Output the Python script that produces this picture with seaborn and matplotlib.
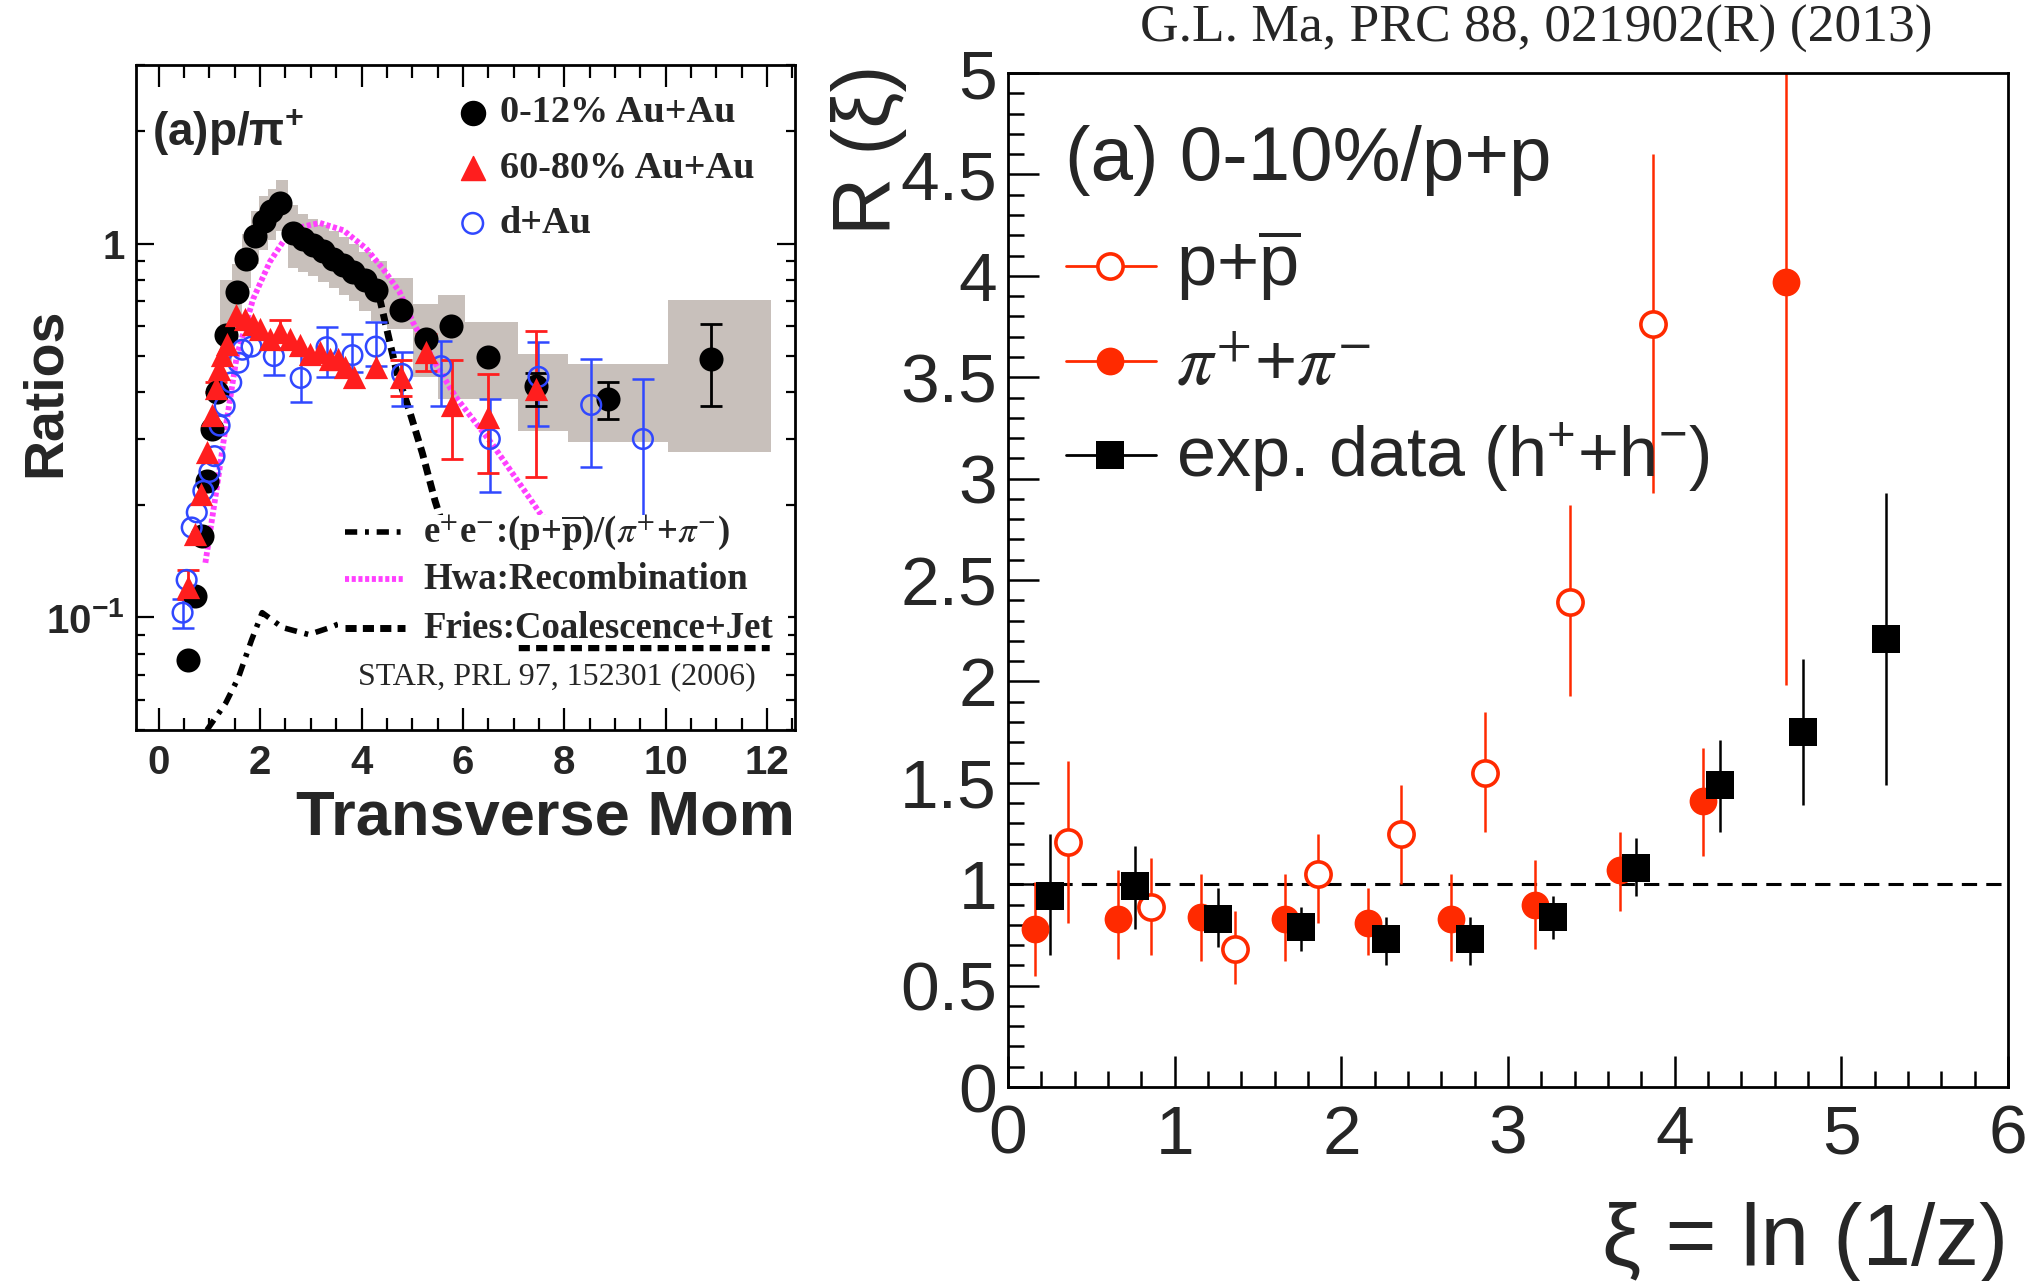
import numpy as np
import matplotlib
matplotlib.use("Agg")
import matplotlib.pyplot as plt
import seaborn as sns
from matplotlib.ticker import MultipleLocator, NullFormatter, FuncFormatter
from matplotlib.patches import Rectangle
from matplotlib.lines import Line2D

# ---------------- LEFT PANEL DATA (STAR p/pi+) ----------------
central_pt = [0.58, 0.72, 0.85, 0.95, 1.05, 1.15, 1.33, 1.55, 1.73, 1.90, 2.07, 2.22, 2.40,
              2.65, 2.85, 3.05, 3.24, 3.44, 3.64, 3.84, 4.06, 4.29, 4.77, 5.28, 5.76,
              6.50, 7.45, 8.86, 10.9]
central_ratio = [0.077, 0.114, 0.165, 0.232, 0.32, 0.40, 0.57, 0.74, 0.91, 1.05, 1.15, 1.22, 1.28,
                 1.07, 1.03, 0.99, 0.953, 0.91, 0.878, 0.84, 0.797, 0.75, 0.663, 0.556, 0.60,
                 0.497, 0.417, 0.384, 0.492]
central_bar_pt = [7.45, 8.86, 10.9]
central_bar_lo = [0.368, 0.339, 0.368]
central_bar_hi = [0.45, 0.425, 0.61]

band_edges = [1.20, 1.45, 1.65, 1.82, 1.98, 2.15, 2.32, 2.55, 2.75, 2.95, 3.15, 3.35, 3.55,
              3.75, 3.95, 4.18, 4.50, 5.02, 5.51, 6.04, 7.09, 8.08, 10.04, 12.08]
band_lo = [0.48, 0.62, 0.76, 0.88, 0.96, 1.02, 1.08, 0.86, 0.84, 0.82, 0.79, 0.76, 0.73,
           0.70, 0.66, 0.62, 0.59, 0.44, 0.384, 0.384, 0.316, 0.294, 0.277]
band_hi = [0.80, 0.88, 1.06, 1.22, 1.34, 1.40, 1.48, 1.27, 1.20, 1.16, 1.12, 1.08, 1.04,
           1.00, 0.95, 0.90, 0.81, 0.69, 0.727, 0.618, 0.507, 0.477, 0.705]

periph_pt = [0.58, 0.72, 0.83, 0.95, 1.05, 1.12, 1.18, 1.25, 1.35, 1.53, 1.70, 1.86, 1.99,
             2.19, 2.39, 2.58, 2.78, 2.98, 3.18, 3.37, 3.54, 3.67, 3.86, 4.29, 4.78, 5.28,
             5.79, 6.50, 7.45]
periph_ratio = [0.121, 0.167, 0.214, 0.277, 0.347, 0.41, 0.462, 0.502, 0.539, 0.642, 0.63,
                0.61, 0.59, 0.556, 0.58, 0.556, 0.534, 0.507, 0.512, 0.492, 0.492, 0.467,
                0.439, 0.467, 0.439, 0.512, 0.37, 0.343, 0.408]
periph_bar_pt = [0.58, 1.12, 2.39, 4.78, 5.28, 5.79, 6.50, 7.45]
periph_bar_lo = [0.112, 0.40, 0.55, 0.392, 0.457, 0.265, 0.244, 0.237]
periph_bar_hi = [0.134, 0.425, 0.623, 0.487, 0.574, 0.487, 0.448, 0.582]

dau_pt = [0.47, 0.55, 0.65, 0.75, 0.88, 1.0, 1.1, 1.2, 1.3, 1.43, 1.57, 1.65, 1.83, 2.27,
          2.80, 3.31, 3.82, 4.28, 4.80, 5.57, 6.53, 7.49, 8.53, 9.55]
dau_ratio = [0.103, 0.126, 0.174, 0.191, 0.218, 0.245, 0.27, 0.326, 0.368, 0.425, 0.48,
             0.52, 0.53, 0.50, 0.437, 0.528, 0.503, 0.53, 0.448, 0.47, 0.30, 0.44, 0.37, 0.30]
dau_bar_pt = [0.47, 2.27, 2.80, 3.31, 3.82, 4.28, 4.80, 5.57, 6.53, 7.49, 8.53, 9.55]
dau_bar_lo = [0.094, 0.444, 0.377, 0.44, 0.454, 0.47, 0.368, 0.367, 0.216, 0.326, 0.252, 0.18]
dau_bar_hi = [0.112, 0.551, 0.502, 0.598, 0.574, 0.617, 0.512, 0.55, 0.384, 0.545, 0.491, 0.435]

ee_pt = [0.95, 1.32, 1.57, 1.83, 2.04, 2.44, 2.96, 3.38, 3.7]
ee_ratio = [0.050, 0.059, 0.069, 0.087, 0.103, 0.094, 0.090, 0.094, 0.098]

hwa_pt = [0.92, 1.14, 1.30, 1.54, 1.86, 2.19, 2.45, 2.85, 3.18, 3.64, 4.09, 4.42, 4.75,
          5.01, 5.45, 5.85, 6.60, 7.52, 8.0]
hwa_ratio = [0.14, 0.22, 0.31, 0.50, 0.71, 0.893, 1.01, 1.11, 1.135, 1.085, 0.97, 0.857,
             0.742, 0.617, 0.48, 0.39, 0.288, 0.19, 0.16]

fries_pt = [4.35, 4.55, 4.70, 4.95, 5.20, 5.45, 5.70, 7.10, 12.05]
fries_ratio = [0.72, 0.55, 0.45, 0.355, 0.275, 0.205, 0.16, 0.083, 0.083]

# ---------------- RIGHT PANEL DATA (R(xi)) ----------------
pp_xi = [0.36, 0.86, 1.36, 1.86, 2.36, 2.86, 3.37, 3.87]
pp_R = [1.21, 0.89, 0.68, 1.05, 1.25, 1.55, 2.39, 3.76]
pp_lo = [0.81, 0.65, 0.51, 0.81, 1.00, 1.26, 1.93, 2.93]
pp_hi = [1.61, 1.13, 0.87, 1.25, 1.49, 1.85, 2.87, 4.60]

pi_xi = [0.16, 0.66, 1.16, 1.66, 2.16, 2.66, 3.16, 3.67, 4.17, 4.67]
pi_R = [0.78, 0.83, 0.84, 0.83, 0.81, 0.83, 0.90, 1.07, 1.41, 3.97]
pi_lo = [0.55, 0.63, 0.62, 0.62, 0.65, 0.62, 0.68, 0.87, 1.14, 1.98]
pi_hi = [1.01, 1.07, 1.05, 1.05, 0.98, 1.05, 1.12, 1.26, 1.67, 6.0]

h_xi = [0.25, 0.76, 1.26, 1.76, 2.27, 2.77, 3.27, 3.77, 4.27, 4.77, 5.27]
h_R = [0.94, 0.99, 0.83, 0.79, 0.73, 0.73, 0.84, 1.08, 1.49, 1.75, 2.21]
h_lo = [0.65, 0.78, 0.69, 0.67, 0.60, 0.60, 0.73, 0.94, 1.26, 1.39, 1.49]
h_hi = [1.25, 1.19, 0.98, 0.89, 0.84, 0.84, 0.94, 1.23, 1.71, 2.11, 2.93]

left_xticks = [0, 2, 4, 6, 8, 10, 12]
right_yticks = [0, 0.5, 1, 1.5, 2, 2.5, 3, 3.5, 4, 4.5, 5]

# ---------------- STYLE ----------------
sns.set_style("ticks")
plt.rcParams['font.family'] = ['Liberation Sans', 'DejaVu Sans']
plt.rcParams['mathtext.fontset'] = 'custom'
plt.rcParams['mathtext.rm'] = 'Liberation Sans'
plt.rcParams['mathtext.it'] = 'Liberation Sans:italic'
plt.rcParams['mathtext.bf'] = 'Liberation Sans:bold'
plt.rcParams['axes.edgecolor'] = 'black'

RED_L = '#ff1e1e'
BLUE_L = '#3048ff'
BAND = '#c8c0bb'
MAG = '#ff40ff'
RED_R = '#ff2a00'
SERIF = ['Liberation Serif', 'DejaVu Serif']
EE_STYLE = (0, (2.2, 1.4, 0.7, 1.4))
HWA_STYLE = (0, (0.7, 0.45))
FRIES_STYLE = (0, (1.6, 0.9))

fig = plt.figure(figsize=(20.38, 12.81), dpi=100)
axL = fig.add_axes([0.0667, 0.4301, 0.3234, 0.5191])
axR = fig.add_axes([0.4946, 0.1514, 0.4907, 0.7916])

# ================= LEFT PANEL =================
axL.set_yscale('log')
axL.set_xlim(-0.45, 12.55)
axL.set_ylim(0.05, 3.0)

edges = np.array(band_edges)
axL.bar(edges[:-1], np.array(band_hi) - np.array(band_lo), width=np.diff(edges),
        bottom=band_lo, align='edge', color=BAND, lw=0, zorder=1)

sns.lineplot(x=ee_pt, y=ee_ratio, ax=axL, color='black', lw=4.0,
             linestyle=EE_STYLE, zorder=2)
sns.lineplot(x=hwa_pt, y=hwa_ratio, ax=axL, color=MAG, lw=4.2,
             linestyle=HWA_STYLE, zorder=2)
sns.lineplot(x=fries_pt, y=fries_ratio, ax=axL, color='black', lw=5.0,
             linestyle=FRIES_STYLE, zorder=2)

def bars(ax, x, lo, hi, color, cap, lw, z):
    x = np.array(x); lo = np.array(lo); hi = np.array(hi)
    mid = np.sqrt(lo * hi)
    ax.errorbar(x, mid, yerr=[mid - lo, hi - mid], fmt='none', ecolor=color,
                elinewidth=lw, capsize=cap, capthick=lw, zorder=z)

bars(axL, dau_bar_pt, dau_bar_lo, dau_bar_hi, BLUE_L, 8, 1.8, 3)
bars(axL, periph_bar_pt, periph_bar_lo, periph_bar_hi, RED_L, 8, 2.0, 3)
bars(axL, central_bar_pt, central_bar_lo, central_bar_hi, 'black', 8, 2.0, 3)

sns.scatterplot(x=central_pt, y=central_ratio, ax=axL, marker='o', s=300,
                color='black', edgecolor='black', linewidth=0, zorder=4)
sns.scatterplot(x=dau_pt, y=dau_ratio, ax=axL, marker='o', s=200,
                facecolor='none', edgecolor=BLUE_L, linewidth=1.8, zorder=5)
sns.scatterplot(x=periph_pt, y=periph_ratio, ax=axL, marker='^', s=280,
                color=RED_L, edgecolor=RED_L, linewidth=0, zorder=6)

axL.xaxis.set_major_locator(plt.FixedLocator(left_xticks))
axL.xaxis.set_minor_locator(MultipleLocator(0.5))
axL.set_yticks([0.1, 1])
axL.set_yticklabels([r'$\mathbf{10^{-1}}$', '1'])
axL.set_yticks([0.05, 0.06, 0.07, 0.08, 0.09, 0.2, 0.3, 0.4, 0.5, 0.6, 0.7, 0.8, 0.9, 2, 3],
               minor=True)
axL.yaxis.set_minor_formatter(NullFormatter())
axL.set_xticklabels([str(v) for v in left_xticks])
axL.tick_params(axis='both', which='both', direction='in', top=True, right=True, color='black')
axL.tick_params(axis='x', which='major', length=16, width=1.6, labelsize=29, pad=10)
axL.tick_params(axis='x', which='minor', length=9, width=1.6)
axL.tick_params(axis='y', which='major', length=13, width=1.6, labelsize=29, pad=8)
axL.tick_params(axis='y', which='minor', length=6.5, width=1.6)
for lab in axL.get_xticklabels() + axL.get_yticklabels():
    lab.set_fontweight('bold')
for sp in axL.spines.values():
    sp.set_linewidth(2.0)
axL.set_xlabel('')
axL.set_ylabel('')

# upper-left legend
axL.text(0.024, 0.899, r"(a)p/$\mathbf{\pi^{+}}$", transform=axL.transAxes,
         fontsize=33, fontweight='bold', va='center', ha='left', zorder=9)
leg_y = [0.928, 0.845, 0.762]
axL.scatter([0.511], [leg_y[0]], transform=axL.transAxes, marker='o', s=300,
            color='black', zorder=9, clip_on=False)
axL.scatter([0.511], [leg_y[1]], transform=axL.transAxes, marker='^', s=300,
            color=RED_L, zorder=9, clip_on=False)
axL.scatter([0.511], [leg_y[2]], transform=axL.transAxes, marker='o', s=220,
            facecolor='none', edgecolor=BLUE_L, linewidth=1.8, zorder=9, clip_on=False)
for yy, txt in zip(leg_y, ["0-12% Au+Au", "60-80% Au+Au", "d+Au"]):
    axL.text(0.552, yy, txt, transform=axL.transAxes, family=SERIF, fontweight='bold',
             fontsize=27.5, va='center', ha='left', zorder=9)

# lower legend with white background
axL.add_patch(Rectangle((0.307, 0.128), 0.683, 0.195, transform=axL.transAxes,
                        facecolor='white', edgecolor='none', zorder=7))
low_y = [0.2977, 0.2271, 0.1534]
axL.add_line(Line2D([0.317, 0.408], [low_y[0]] * 2, transform=axL.transAxes, color='black',
                    lw=4.0, linestyle=EE_STYLE, zorder=8))
axL.add_line(Line2D([0.317, 0.408], [low_y[1]] * 2, transform=axL.transAxes, color=MAG,
                    lw=4.2, linestyle=HWA_STYLE, zorder=8))
axL.add_line(Line2D([0.317, 0.408], [low_y[2]] * 2, transform=axL.transAxes, color='black',
                    lw=5.0, linestyle=FRIES_STYLE, zorder=8))
low_txt = [r"e$^{+}$e$^{-}$:(p+$\mathbf{\overline{p}}$)/($\pi^{+}$+$\pi^{-}$)",
           "Hwa:Recombination", "Fries:Coalescence+Jet"]
for yy, txt in zip(low_y, low_txt):
    axL.text(0.4355, yy, txt, transform=axL.transAxes, family=SERIF, fontweight='bold',
             fontsize=26.5, va='center', ha='left', zorder=9, math_fontfamily='stix')
axL.text(0.337, 0.0797, "STAR, PRL 97, 152301 (2006)", transform=axL.transAxes,
         family=SERIF, fontsize=23, va='center', ha='left', zorder=9)

fig.text(0.0226, 0.694, "Ratios", rotation=90, fontsize=40, fontweight='bold',
         ha='center', va='center')
fig.text(0.390, 0.3614, "Transverse Mom", fontsize=45.5, fontweight='bold',
         ha='right', va='center')

# ================= RIGHT PANEL =================
axR.set_xlim(0, 6)
axR.set_ylim(0, 5)
axR.axhline(1.0, color='black', lw=2.2, linestyle=(0, (5, 3)), zorder=1)

def rbars(x, y, lo, hi, color):
    y = np.array(y)
    axR.errorbar(x, y, yerr=[y - np.array(lo), np.array(hi) - y], fmt='none',
                 ecolor=color, elinewidth=1.8, capsize=0, zorder=2)

rbars(pp_xi, pp_R, pp_lo, pp_hi, RED_R)
rbars(pi_xi, pi_R, pi_lo, pi_hi, RED_R)
rbars(h_xi, h_R, h_lo, h_hi, 'black')

sns.scatterplot(x=pp_xi, y=pp_R, ax=axR, marker='o', s=330, facecolor='white',
                edgecolor=RED_R, linewidth=2.6, zorder=4)
sns.scatterplot(x=pi_xi, y=pi_R, ax=axR, marker='o', s=400, color=RED_R,
                edgecolor=RED_R, linewidth=0, zorder=4)
sns.scatterplot(x=h_xi, y=h_R, ax=axR, marker='s', s=380, color='black',
                edgecolor='black', linewidth=0, zorder=5)

axR.xaxis.set_major_locator(MultipleLocator(1))
axR.xaxis.set_minor_locator(MultipleLocator(0.2))
axR.yaxis.set_major_locator(plt.FixedLocator(right_yticks))
axR.yaxis.set_minor_locator(MultipleLocator(0.1))
fmt = FuncFormatter(lambda v, p: f"{v:g}")
axR.xaxis.set_major_formatter(fmt)
axR.yaxis.set_major_formatter(fmt)
axR.tick_params(axis='both', which='both', direction='in', top=False, right=False, color='black')
axR.tick_params(axis='both', which='major', length=22, width=1.8, labelsize=50)
axR.tick_params(axis='x', which='major', pad=12)
axR.tick_params(axis='y', which='major', pad=8)
axR.tick_params(axis='both', which='minor', length=11.5, width=1.8)
for sp in axR.spines.values():
    sp.set_linewidth(2.0)
axR.set_xlabel('')
axR.set_ylabel('')

# right legend
axR.text(0.057, 0.8945, "(a) 0-10%/p+p", transform=axR.transAxes, fontsize=55,
         va='baseline', ha='left', zorder=9)
rows = [0.8097, 0.716, 0.623]
axR.add_line(Line2D([0.058, 0.148], [rows[0]] * 2, transform=axR.transAxes, color=RED_R, lw=2))
axR.add_line(Line2D([0.058, 0.148], [rows[1]] * 2, transform=axR.transAxes, color=RED_R, lw=2))
axR.add_line(Line2D([0.058, 0.148], [rows[2]] * 2, transform=axR.transAxes, color='black', lw=2))
axR.scatter([0.102], [rows[0]], transform=axR.transAxes, marker='o', s=330, facecolor='white',
            edgecolor=RED_R, linewidth=2.6, zorder=6, clip_on=False)
axR.scatter([0.102], [rows[1]], transform=axR.transAxes, marker='o', s=400, color=RED_R,
            linewidth=0, zorder=6, clip_on=False)
axR.scatter([0.102], [rows[2]], transform=axR.transAxes, marker='s', s=380, color='black',
            linewidth=0, zorder=6, clip_on=False)
axR.text(0.168, 0.790, r"p+$\overline{\mathrm{p}}$", transform=axR.transAxes, fontsize=52,
         va='baseline', ha='left')
axR.text(0.168, 0.6933, r"$\pi^{+}$+$\pi^{-}$", transform=axR.transAxes, fontsize=52,
         va='baseline', ha='left', math_fontfamily='stix')
axR.text(0.168, 0.6016, r"exp. data (h$^{+}$+h$^{-}$)", transform=axR.transAxes, fontsize=50.5,
         va='baseline', ha='left')

fig.text(0.7537, 0.9774, "G.L. Ma, PRC 88, 021902(R) (2013)", family=SERIF, fontsize=38.5,
         ha='center', va='center')
fig.text(0.4265, 0.9493, "R (ξ)", rotation=90, fontsize=58, ha='center', va='top')
fig.text(0.9853, 0.0125, "ξ = ln (1/z)", fontsize=63, ha='right', va='baseline')

fig.savefig("out.png", dpi=100)
